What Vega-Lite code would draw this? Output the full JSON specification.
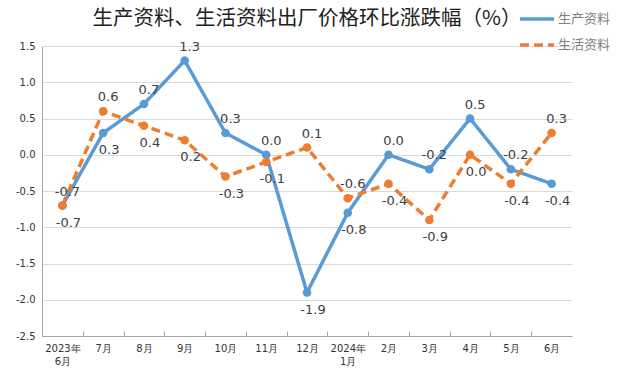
{
  "$schema": "https://vega.github.io/schema/vega-lite/v6.json",
  "width": 530,
  "height": 290,
  "autosize": {"type": "none"},
  "padding": {"left": 42, "top": 46, "right": 53, "bottom": 40},
  "background": "white",
  "title": {"text": "生产资料、生活资料出厂价格环比涨跌幅（%）", "font": "Noto Sans CJK SC", "fontSize": 20.5, "fontWeight": "normal", "color": "#222222", "anchor": "middle", "offset": -29},
  "config": {
    "view": {"stroke": null},
    "font": "DejaVu Sans",
    "legend": {"orient": "none", "legendX": 476, "legendY": -46, "title": null, "symbolType": "stroke", "symbolSize": 1156, "symbolStrokeWidth": 3.5, "labelFontSize": 13, "labelColor": "#7f7f7f", "labelFont": "Noto Sans CJK SC", "rowPadding": -10, "labelOffset": 2}
  },
  "data": {"values": [
    {"m": "2023年6月", "s": "生产资料", "v": -0.7},
    {"m": "7月", "s": "生产资料", "v": 0.3},
    {"m": "8月", "s": "生产资料", "v": 0.7},
    {"m": "9月", "s": "生产资料", "v": 1.3},
    {"m": "10月", "s": "生产资料", "v": 0.3},
    {"m": "11月", "s": "生产资料", "v": 0.0},
    {"m": "12月", "s": "生产资料", "v": -1.9},
    {"m": "2024年1月", "s": "生产资料", "v": -0.8},
    {"m": "2月", "s": "生产资料", "v": 0.0},
    {"m": "3月", "s": "生产资料", "v": -0.2},
    {"m": "4月", "s": "生产资料", "v": 0.5},
    {"m": "5月", "s": "生产资料", "v": -0.2},
    {"m": "6月", "s": "生产资料", "v": -0.4},
    {"m": "2023年6月", "s": "生活资料", "v": -0.7},
    {"m": "7月", "s": "生活资料", "v": 0.6},
    {"m": "8月", "s": "生活资料", "v": 0.4},
    {"m": "9月", "s": "生活资料", "v": 0.2},
    {"m": "10月", "s": "生活资料", "v": -0.3},
    {"m": "11月", "s": "生活资料", "v": -0.1},
    {"m": "12月", "s": "生活资料", "v": 0.1},
    {"m": "2024年1月", "s": "生活资料", "v": -0.6},
    {"m": "2月", "s": "生活资料", "v": -0.4},
    {"m": "3月", "s": "生活资料", "v": -0.9},
    {"m": "4月", "s": "生活资料", "v": 0.0},
    {"m": "5月", "s": "生活资料", "v": -0.4},
    {"m": "6月", "s": "生活资料", "v": 0.3}
  ]},
  "encoding": {
    "x": {"field": "m", "type": "nominal", "sort": null, "title": null,
      "scale": {"type": "point", "padding": 0.5},
      "axis": {"labelAngle": 0, "labelFontSize": 10, "labelColor": "#333333", "labelFont": "DejaVu Sans",
        "labelExpr": "indexof(datum.label,'年')>0 ? [slice(datum.label,0,indexof(datum.label,'年')+1), slice(datum.label,indexof(datum.label,'年')+1)] : datum.label",
        "tickOffset": -20.38, "labelOffset": 20.38, "tickSize": -5, "tickColor": "#a6a6a6", "domainColor": "#a6a6a6", "labelPadding": 12, "labelLineHeight": 13}},
    "y": {"field": "v", "type": "quantitative", "title": null,
      "scale": {"domain": [-2.5, 1.5], "nice": false},
      "axis": {"values": [-2.5, -2, -1.5, -1, -0.5, 0, 0.5, 1, 1.5], "format": ".1f", "labelExpr": "replace(datum.label, '−', '-')", "labelFontSize": 10, "labelColor": "#333333", "gridColor": "#d9d9d9", "ticks": false, "domainColor": "#a6a6a6", "labelPadding": 7}}
  },
  "layer": [
    {"mark": {"type": "line", "strokeWidth": 3.5},
      "encoding": {
        "color": {"field": "s", "type": "nominal", "scale": {"domain": ["生产资料", "生活资料"], "range": ["#5B9BD5", "#ED7D31"]}},
        "strokeDash": {"field": "s", "type": "nominal", "scale": {"domain": ["生产资料", "生活资料"], "range": [[1, 0], [9, 5]]}}
      }},
    {"mark": {"type": "point", "filled": true, "size": 75, "opacity": 1},
      "encoding": {
        "color": {"field": "s", "type": "nominal"}
      }},
    {"transform": [
        {"joinaggregate": [{"op": "sum", "field": "v", "as": "tot"}], "groupby": ["m"]},
        {"calculate": "replace(format(datum.v, '.1f'), '−', '-')", "as": "lab"},
        {"filter": "datum.v > datum.tot - datum.v + 0.001 || (abs(datum.v - (datum.tot - datum.v)) < 0.001 && datum.s == '生产资料')"}
      ],
      "mark": {"type": "text", "dy": -14, "dx": 5, "fontSize": 13, "color": "#404040", "font": "DejaVu Sans"},
      "encoding": {"text": {"field": "lab", "type": "nominal"}}},
    {"transform": [
        {"joinaggregate": [{"op": "sum", "field": "v", "as": "tot"}], "groupby": ["m"]},
        {"calculate": "replace(format(datum.v, '.1f'), '−', '-')", "as": "lab"},
        {"filter": "!(datum.v > datum.tot - datum.v + 0.001 || (abs(datum.v - (datum.tot - datum.v)) < 0.001 && datum.s == '生产资料'))"}
      ],
      "mark": {"type": "text", "dy": 17, "dx": 6, "fontSize": 13, "color": "#404040", "font": "DejaVu Sans"},
      "encoding": {"text": {"field": "lab", "type": "nominal"}}}
  ]
}
